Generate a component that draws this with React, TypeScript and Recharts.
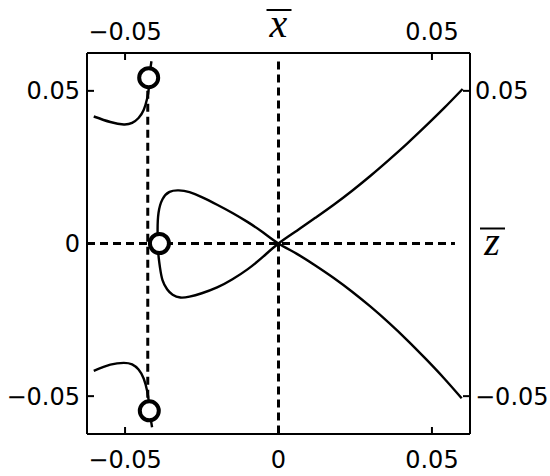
import { ComposedChart, Line, Scatter, XAxis, YAxis, ReferenceLine, Label } from 'recharts'

// main nodal curve: upper-right branch -> origin -> lower loop -> upper loop -> origin -> lower-right branch
const upperRightX = [0.0600, 0.0540, 0.0480, 0.0420, 0.0360, 0.0300, 0.0240, 0.0180, 0.0120, 0.0060]
const upperRightZ = [0.0506, 0.0444, 0.0385, 0.0328, 0.0274, 0.0222, 0.0173, 0.0127, 0.0084, 0.0042]
const loopX = [
    0, -0.0050, -0.0100, -0.0150, -0.0200, -0.0250, -0.0290, -0.0320, -0.0345, -0.0363, -0.0378, -0.0386, -0.0391,
    -0.0393, -0.0394, -0.0391, -0.0378, -0.0355, -0.0325, -0.0290, -0.0250, -0.0200, -0.0150, -0.0100, -0.0050, 0,
]
const loopZ = [
    0, -0.0043, -0.0084, -0.0117, -0.0144, -0.0163, -0.0174, -0.0177, -0.0168, -0.0150, -0.0120, -0.0080, -0.0040,
    0, 0.0045, 0.0100, 0.0145, 0.0169, 0.0174, 0.0168, 0.0152, 0.0127, 0.0100, 0.0070, 0.0036, 0,
]
const lowerRightX = [0.0060, 0.0120, 0.0180, 0.0240, 0.0300, 0.0360, 0.0420, 0.0480, 0.0540, 0.0597]
const lowerRightZ = [-0.0034, -0.0072, -0.0113, -0.0158, -0.0207, -0.0260, -0.0317, -0.0378, -0.0442, -0.0507]

// left branches near the vertical asymptote
const upperLeftX = [-0.0602, -0.0548, -0.0504, -0.0477, -0.0456, -0.0439, -0.0428, -0.0423, -0.0421, -0.0414]
const upperLeftZ = [0.0416, 0.0398, 0.0390, 0.0395, 0.0411, 0.0438, 0.0475, 0.0505, 0.0543, 0.0597]
const lowerLeftX = [-0.0602, -0.0548, -0.0504, -0.0477, -0.0456, -0.0439, -0.0428, -0.0423, -0.0420, -0.0412]
const lowerLeftZ = [-0.0417, -0.0397, -0.0391, -0.0396, -0.0413, -0.0443, -0.0483, -0.0515, -0.0548, -0.0602]

// marked points
const markX = [-0.0423, -0.0388, -0.0421]
const markZ = [0.0543, 0, -0.0548]

const asymptoteX = -0.0426
const xTicksBottom = [-0.05, 0, 0.05]
const xTicksTop = [-0.05, 0.05]
const zTicksLeft = [-0.05, 0, 0.05]
const zTicksRight = [-0.05, 0.05]
const DOMAIN: [number, number] = [-0.0624, 0.0624]

const toPoints = (xs: number[], zs: number[]) => xs.map((x, i) => ({ x, z: zs[i] }))

const nodal = [
    ...toPoints(upperRightX, upperRightZ),
    ...toPoints(loopX, loopZ),
    ...toPoints(lowerRightX, lowerRightZ),
]
const upperLeft = toPoints(upperLeftX, upperLeftZ)
const lowerLeft = toPoints(lowerLeftX, lowerLeftZ)
const marks = toPoints(markX, markZ)

const fmt = (v: number) => (v === 0 ? '0' : (v < 0 ? '\u2212' : '') + Math.abs(v).toFixed(2))

const tickFont = { fontFamily: 'DejaVu Sans', fontSize: 24, fill: '#000' }
const axisLine = { stroke: '#000', strokeWidth: 2 }
const tickLine = { stroke: '#000', strokeWidth: 2 }
const dash = { stroke: '#000', strokeWidth: 3, strokeDasharray: '8 5' }

const XBarLabel = (props: any) => {
    const { x, width } = props.viewBox
    const cx = x + width / 2
    return (
        <g>
            <line x1={cx - 12} x2={cx + 13} y1={10} y2={10} stroke="#000" strokeWidth={2} />
            <text x={cx} y={37} textAnchor="middle" fontFamily="Liberation Serif" fontStyle="italic" fontSize={40}>x</text>
        </g>
    )
}

const ZBarLabel = (props: any) => {
    const { x, y, height } = props.viewBox
    const cx = x + 22
    const cy = y + height / 2
    return (
        <g>
            <line x1={cx - 12} x2={cx + 13} y1={cy - 15} y2={cy - 15} stroke="#000" strokeWidth={2} />
            <text x={cx} y={cy + 11} textAnchor="middle" fontFamily="Liberation Serif" fontStyle="italic" fontSize={40}>z</text>
        </g>
    )
}

const Ring = (p: any) => (
    <circle cx={p.cx} cy={p.cy} r={9.5} fill="#fff" stroke="#000" strokeWidth={4} />
)

export default function App() {
    return (
        <div style={{ position: 'absolute', left: 0, top: 0, background: '#fff' }}>
            <ComposedChart width={550} height={476} margin={{ top: 0, right: 0, bottom: 0, left: 0 }}>
                <XAxis xAxisId="bottom" dataKey="x" type="number" orientation="bottom" domain={DOMAIN}
                    allowDataOverflow ticks={xTicksBottom} tickFormatter={fmt} height={42}
                    tickSize={-7} tickMargin={24} axisLine={axisLine} tickLine={tickLine} tick={tickFont} />
                <XAxis xAxisId="top" dataKey="x" type="number" orientation="top" domain={DOMAIN}
                    allowDataOverflow ticks={xTicksTop} tickFormatter={fmt} height={53}
                    tickSize={-7} tickMargin={20} axisLine={axisLine} tickLine={tickLine} tick={tickFont}>
                    <Label content={XBarLabel} />
                </XAxis>
                <YAxis yAxisId="left" dataKey="z" type="number" orientation="left" domain={DOMAIN}
                    allowDataOverflow ticks={zTicksLeft} tickFormatter={fmt} width={87}
                    tickSize={-7} tickMargin={14} axisLine={axisLine} tickLine={tickLine} tick={tickFont} />
                <YAxis yAxisId="right" dataKey="z" type="number" orientation="right" domain={DOMAIN}
                    allowDataOverflow ticks={zTicksRight} tickFormatter={fmt} width={80}
                    tickSize={-7} tickMargin={12} axisLine={axisLine} tickLine={tickLine} tick={tickFont}>
                    <Label content={ZBarLabel} />
                </YAxis>

                <ReferenceLine xAxisId="bottom" yAxisId="left" segment={[{ x: DOMAIN[0], y: 0 }, { x: 0.0575, y: 0 }]} {...dash} />
                <ReferenceLine xAxisId="bottom" yAxisId="left" segment={[{ x: 0, y: 0.0596 }, { x: 0, y: DOMAIN[0] }]} {...dash} />
                <ReferenceLine xAxisId="bottom" yAxisId="left" segment={[{ x: asymptoteX, y: markZ[0] }, { x: asymptoteX, y: markZ[2] }]} {...dash} />

                <Line xAxisId="bottom" yAxisId="left" data={nodal} dataKey="z" type="natural" stroke="#000" strokeWidth={2.4} dot={false} isAnimationActive={false} />
                <Line xAxisId="bottom" yAxisId="left" data={upperLeft} dataKey="z" type="natural" stroke="#000" strokeWidth={2.4} dot={false} isAnimationActive={false} />
                <Line xAxisId="bottom" yAxisId="left" data={lowerLeft} dataKey="z" type="natural" stroke="#000" strokeWidth={2.4} dot={false} isAnimationActive={false} />
                <Scatter xAxisId="bottom" yAxisId="left" data={marks} dataKey="z" shape={Ring} isAnimationActive={false} />
            </ComposedChart>
        </div>
    )
}
